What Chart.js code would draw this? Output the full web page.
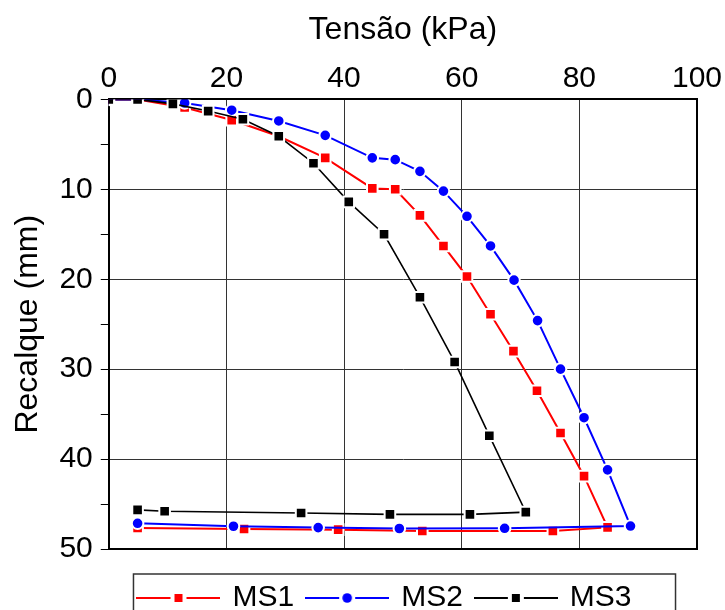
<!DOCTYPE html>
<html>
<head>
<meta charset="utf-8">
<script src="https://cdn.jsdelivr.net/npm/chart.js@4/dist/chart.umd.min.js"></script>
<style>
  body { margin: 0; background: #fff; }
</style>
</head>
<body>
<canvas id="grafico" width="725" height="610"></canvas>
<script>
// valores (carga e descarga)
const tensaoMS1 = [0, 4.9, 12.9, 20.9, 28.9, 36.8, 44.8, 48.7, 52.9, 56.9, 60.9, 64.9, 68.8, 72.8, 76.8, 80.8, 84.8, 75.5, 53.3, 39.0, 23.0, 4.9];
const recalqueMS1 = [0, 0, 0.9, 2.3, 4.1, 6.5, 9.9, 10.0, 12.9, 16.3, 19.7, 23.9, 28.0, 32.4, 37.1, 41.9, 47.6, 48.0, 48.0, 47.85, 47.77, 47.66];

const tensaoMS2 = [0, 4.9, 12.9, 20.9, 28.9, 36.8, 44.8, 48.7, 52.9, 56.9, 60.9, 64.9, 68.9, 72.9, 76.8, 80.8, 84.8, 88.7, 67.3, 49.4, 35.6, 21.2, 4.9];
const recalqueMS2 = [0, 0, 0.4, 1.2, 2.4, 4.0, 6.5, 6.7, 8.0, 10.2, 13.0, 16.3, 20.1, 24.6, 30.0, 35.4, 41.2, 47.45, 47.7, 47.72, 47.62, 47.47, 47.14];

const tensaoMS3 = [0, 4.9, 10.9, 16.9, 22.8, 28.9, 34.8, 40.8, 46.8, 52.9, 58.8, 64.7, 70.9, 61.4, 47.8, 32.7, 9.5, 4.9];
const recalqueMS3 = [0, 0, 0.5, 1.3, 2.2, 4.1, 7.1, 11.4, 15.0, 22.0, 29.2, 37.4, 45.9, 46.15, 46.15, 46.0, 45.8, 45.65];

const nomes = ["MS1", "MS2", "MS3"];
const cores = ["#ff0000", "#0000ff", "#000000"];

function pontos(xs, ys) {
  return xs.map(function (x, i) {
    return { x: x, y: ys[i] };
  });
}

// ícone da legenda: linha com marcador no meio
function iconeLegenda(cor, forma) {
  const c = document.createElement("canvas");
  c.width = 84;
  c.height = 16;
  const g = c.getContext("2d");
  g.strokeStyle = cor;
  g.lineWidth = 2;
  g.beginPath();
  g.moveTo(0, 8);
  g.lineTo(34, 8);
  g.moveTo(50, 8);
  g.lineTo(84, 8);
  g.stroke();
  g.fillStyle = cor;
  if (forma === "circle") {
    g.beginPath();
    g.arc(42, 8, 4.8, 0, 2 * Math.PI);
    g.fill();
  } else {
    g.fillRect(38, 4, 8, 8);
  }
  return c;
}
const icones = [
  iconeLegenda(cores[0], "rect"),
  iconeLegenda(cores[1], "circle"),
  iconeLegenda(cores[2], "rect"),
];

// moldura em volta da legenda
const moldura = {
  id: "moldura",
  afterDraw: function (chart) {
    const caixas = chart.legend.legendHitBoxes;
    if (!caixas || !caixas.length) return;
    const a = caixas[0];
    const b = caixas[caixas.length - 1];
    const g = chart.ctx;
    const topo = a.top + a.height / 2 - 24;
    const esq = a.left - 6;
    g.save();
    g.strokeStyle = "#333";
    g.lineWidth = 1.5;
    g.strokeRect(esq, topo, b.left + b.width + 44 - esq, chart.height - topo + 10);
    g.restore();
  },
};

Chart.defaults.font.family = '"Liberation Sans", Arial, sans-serif';
Chart.defaults.color = "#000";

const ctx = document.getElementById("grafico").getContext("2d");
const grafico = new Chart(ctx, {
  type: "scatter",
  data: {
    datasets: [
      {
        label: nomes[0],
        data: pontos(tensaoMS1, recalqueMS1),
        showLine: true,
        borderColor: cores[0],
        backgroundColor: cores[0],
        borderWidth: 2,
        pointStyle: "rect",
        pointRadius: 7.5,
        pointBorderColor: "#fff",
        pointBorderWidth: 2,
        order: 3,
      },
      {
        label: nomes[1],
        data: pontos(tensaoMS2, recalqueMS2),
        showLine: true,
        borderColor: cores[1],
        backgroundColor: cores[1],
        borderWidth: 2,
        pointStyle: "circle",
        pointRadius: 5.8,
        pointBorderColor: "#fff",
        pointBorderWidth: 2,
        order: 2,
      },
      {
        label: nomes[2],
        data: pontos(tensaoMS3, recalqueMS3),
        showLine: true,
        borderColor: cores[2],
        backgroundColor: cores[2],
        borderWidth: 1.6,
        pointStyle: "rect",
        pointRadius: 7.5,
        pointBorderColor: "#fff",
        pointBorderWidth: 2,
        order: 1,
      },
    ],
  },
  options: {
    responsive: false,
    animation: false,
    devicePixelRatio: 1,
    layout: {
      padding: { left: 50, right: 4, top: 0, bottom: -13 },
    },
    plugins: {
      tooltip: { enabled: false },
      legend: {
        position: "bottom",
        labels: {
          usePointStyle: true,
          pointStyleWidth: 78,
          padding: 14,
          font: { size: 30 },
          color: "#000",
          generateLabels: function (chart) {
            return chart.data.datasets.map(function (ds, i) {
              return {
                text: ds.label,
                pointStyle: icones[i],
                fillStyle: ds.borderColor,
                strokeStyle: ds.borderColor,
                lineWidth: 0,
                hidden: false,
                datasetIndex: i,
              };
            });
          },
        },
      },
    },
    scales: {
      x: {
        type: "linear",
        position: "top",
        min: 0,
        max: 100,
        ticks: {
          stepSize: 20,
          autoSkip: false,
          maxRotation: 0,
          padding: 3,
          font: { size: 30 },
          color: "#000",
        },
        grid: { color: "#333", lineWidth: 1, drawTicks: false },
        border: { color: "#000", width: 2 },
        title: {
          display: true,
          text: "Tensão (kPa)",
          font: { size: 32 },
          color: "#000",
          padding: { top: 11, bottom: 8 },
        },
      },
      y: {
        type: "linear",
        position: "left",
        min: 0,
        max: 50,
        reverse: true,
        ticks: {
          stepSize: 5,
          autoSkip: false,
          padding: 8,
          font: { size: 30 },
          color: "#000",
          callback: function (v) {
            return v % 10 === 0 ? v : "";
          },
        },
        grid: {
          color: function (c) {
            return c.tick && c.tick.value % 10 === 0 ? "#333" : "rgba(0,0,0,0)";
          },
          tickColor: "#000",
          tickLength: 8,
          lineWidth: 1,
        },
        border: { color: "#000", width: 2 },
        title: {
          display: true,
          text: "Recalque (mm)",
          font: { size: 32 },
          color: "#000",
          padding: { top: -41, bottom: 4 },
        },
      },
      x2: {
        type: "linear",
        position: "bottom",
        min: 0,
        max: 100,
        ticks: { display: false },
        grid: { drawOnChartArea: false, drawTicks: true, tickLength: 20, tickColor: "rgba(0,0,0,0)" },
        border: { color: "#000", width: 2 },
      },
      y2: {
        type: "linear",
        position: "right",
        min: 0,
        max: 50,
        reverse: true,
        ticks: { display: false },
        grid: { drawOnChartArea: false, drawTicks: false },
        border: { color: "#000", width: 2 },
      },
    },
  },
  plugins: [moldura],
});
</script>
</body>
</html>
